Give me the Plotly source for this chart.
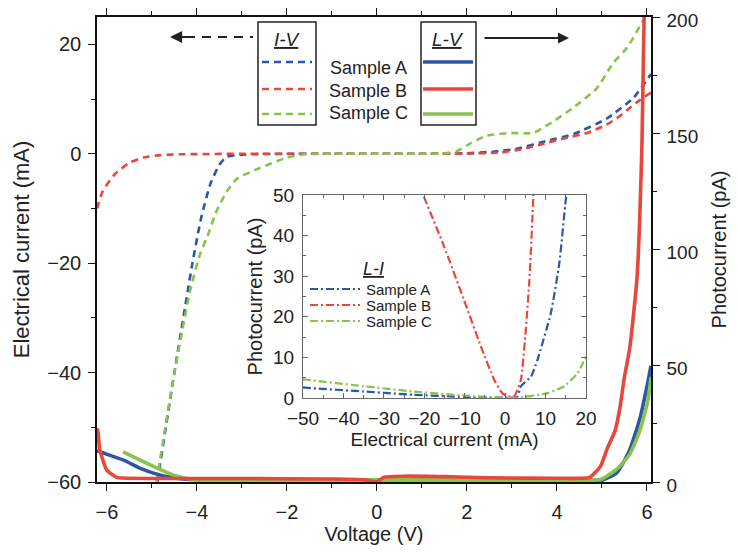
import plotly.graph_objects as go

# ---------------- data ----------------
# I-V curves (left axis, mA) vs voltage (V)
iv_a_v = [-4.88, -4.5, -4.1, -3.9, -3.7, -3.5, -3.35, -3.1, -2.5, -1, 0, 1, 2.0, 2.6, 3.1, 3.8, 4.4, 5.1, 5.7, 6.09]
iv_a_i = [-60, -40, -20, -11.5, -5.5, -2, -0.6, -0.2, -0.05, 0, 0, 0, 0.1, 0.4, 0.9, 2.4, 3.7, 6.4, 10.2, 14.6]

iv_b_v = [-6.22, -6.09, -5.82, -5.49, -5.2, -4.82, -4.4, -3, -1, 0, 1, 2, 2.73, 3.2, 3.78, 4.2, 4.67, 5.1, 5.4, 5.62, 5.84, 6.09]
iv_b_i = [-10, -6.8, -3.7, -1.6, -0.7, -0.25, -0.1, 0, 0, 0, 0, 0.05, 0.2, 0.8, 2.0, 2.9, 3.8, 5.3, 6.9, 8.4, 9.8, 11.2]

iv_c_v = [-4.9, -4.5, -4.15, -3.93, -3.78, -3.56, -3.33, -3.1, -2.6, -2.0, -1.6, -1, 0, 1, 1.5, 1.78, 2.1, 2.44, 2.96, 3.47, 3.84, 4.36, 4.89, 5.24, 5.56, 5.91, 6.0]
iv_c_i = [-60, -40, -25, -18.3, -15.4, -10.4, -6.8, -4.5, -2.6, -0.7, -0.1, 0, 0, 0, 0.05, 0.5, 2.0, 3.3, 3.8, 3.8, 5.5, 8.4, 12, 16.5, 19.4, 24.3, 25.5]

# L-V curves (right axis, pA) vs voltage (V)
lv_a_v = [-6.22, -6.16, -5.64, -5.27, -4.89, -4.6, -4.31, -4.0, -3, 0, 3, 4.5, 5.0, 5.33, 5.6, 5.84, 6.0, 6.09]
lv_a_p = [13.5, 13, 9.5, 6, 3.4, 2, 1.3, 1.0, 1.0, 1.0, 1.0, 1.0, 0.8, 4, 13, 27, 41, 50]

lv_b_v = [-6.22, -6.2, -6.16, -6.0, -5.78, -5.64, -5, -3, -1, -0.3, -0.08, 0.02, 0.15, 0.6, 1.5, 2.5, 4.0, 4.5, 4.73, 4.96, 5.13, 5.29, 5.4, 5.49, 5.62, 5.78, 5.89, 5.95]
lv_b_p = [23, 22, 14, 5, 2, 1.7, 1.5, 1.5, 1.3, 1.0, 0.2, 0.2, 2.0, 2.5, 2.3, 1.8, 1.6, 1.6, 2, 6.5, 15, 22, 32, 44, 58, 88, 146, 215]

lv_c_v = [-5.64, -5.27, -4.89, -4.53, -4.16, -3.5, -2, 0, 2, 4, 4.96, 5.33, 5.62, 5.84, 6.02, 6.09]
lv_c_p = [13, 9.5, 6, 3, 1.3, 1.0, 0.9, 0.9, 0.9, 1.0, 1, 5.5, 12, 22, 35, 45]

# L-I curves (inset): photocurrent (pA) vs electrical current (mA)
li_a_i = [-50, -49, -35, -22.6, -10, 0, 3, 3.9, 6.4, 8.0, 11.3, 13.4, 15.0, 15.2]
li_a_p = [2.6, 2.5, 1.6, 0.8, 0.25, 0.1, 0.3, 2.9, 5.3, 9.4, 20.9, 33.2, 48.8, 50]

li_b_i = [-20.1, -15.1, -10.2, -6, -2.7, -0.7, 0.6, 2.2, 3.9, 5.1, 6.0, 6.8, 7.0]
li_b_p = [49.6, 37.3, 24.2, 12.7, 4.5, 1.2, 0.4, 0.4, 4.5, 16.8, 29, 45.5, 50]

li_c_i = [-50, -49, -35, -22.6, -10.2, 2.2, 10.5, 14.6, 17.9, 20]
li_c_p = [4.6, 4.5, 2.9, 1.6, 0.6, 0, 1.2, 2.9, 6.1, 10.2]

samples = ["Sample A", "Sample B", "Sample C"]
x_ticks = [-6, -4, -2, 0, 2, 4, 6]
y_ticks = [-60, -40, -20, 0, 20]
y2_ticks = [0, 50, 100, 150, 200]
inset_x_ticks = [-50, -40, -30, -20, -10, 0, 10, 20]
inset_y_ticks = [0, 10, 20, 30, 40, 50]

# ---------------- styling / layout ----------------
# page body adds an 8 px margin, so the figure is drawn 8 px in from the window edge
OFF = 8
W, H = 739 - OFF, 553 - OFF
# plot area in window pixels: x 97..651, y 17..482
ML, MT = 97 - OFF, 17 - OFF
MR, MB = W - (651 - OFF), H - (482 - OFF)
PW, PH = W - ML - MR, H - MT - MB


def px(x):
    """window pixel x -> paper fraction"""
    return (x - OFF - ML) / PW


def py(y):
    """window pixel y -> paper fraction"""
    return (H - MB - (y - OFF)) / PH


BLUE = "#2b56a9"
RED = "#e8473c"
GREEN = "#88c34c"
COLORS = [BLUE, RED, GREEN]
FONT = "Arial, Liberation Sans, sans-serif"
TXT = "#222222"
DASH = "7px,5px"
DASHDOT = "8px,3px,2px,3px"

fig = go.Figure()

# I-V dashed
for v, i, c, n in [(iv_a_v, iv_a_i, BLUE, samples[0]), (iv_b_v, iv_b_i, RED, samples[1]),
                   (iv_c_v, iv_c_i, GREEN, samples[2])]:
    fig.add_trace(go.Scatter(x=v, y=i, mode="lines", name=n, showlegend=False,
                             line=dict(color=c, width=2.6, dash=DASH, shape="spline", smoothing=0.5),
                             xaxis="x", yaxis="y"))

# L-V solid
for v, p, c, n in [(lv_a_v, lv_a_p, BLUE, samples[0]), (lv_c_v, lv_c_p, GREEN, samples[2]),
                   (lv_b_v, lv_b_p, RED, samples[1])]:
    fig.add_trace(go.Scatter(x=v, y=p, mode="lines", name=n, showlegend=False,
                             line=dict(color=c, width=3.6, shape="spline", smoothing=0.5),
                             xaxis="x", yaxis="y2"))

# L-I inset dash-dot
for i, p, c, n in [(li_a_i, li_a_p, BLUE, samples[0]), (li_b_i, li_b_p, RED, samples[1]),
                   (li_c_i, li_c_p, GREEN, samples[2])]:
    fig.add_trace(go.Scatter(x=i, y=p, mode="lines", name=n, showlegend=False,
                             line=dict(color=c, width=2.2, dash=DASHDOT, shape="spline", smoothing=0.5),
                             xaxis="x2", yaxis="y3", cliponaxis=True))

axis_common = dict(showgrid=False, zeroline=False, showline=True, linecolor="#111111",
                   linewidth=1.5, tickcolor="#111111", tickwidth=1.3, automargin=False,
                   ticklabeloverflow="allow",
                   tickfont=dict(family=FONT, size=20, color=TXT))

inset_domain_x = [px(303), px(586)]
inset_domain_y = [py(398), py(195)]

fig.update_layout(
    width=W, height=H,
    margin=dict(l=ML, r=MR, t=MT, b=MB, pad=0, autoexpand=False),
    paper_bgcolor="white", plot_bgcolor="white",
    font=dict(family=FONT, color=TXT),
    showlegend=False,
    xaxis=dict(axis_common, domain=[0, 1], range=[-6.22, 6.09], tickmode="array", tickvals=x_ticks,
               ticks="outside", ticklen=7, mirror="ticks", anchor="y", ticklabelstandoff=4,
               minor=dict(dtick=1, tick0=0, ticks="outside", ticklen=4, tickcolor="#111111"),
               title=dict(text="Voltage (V)", font=dict(family=FONT, size=20, color=TXT), standoff=2)),
    yaxis=dict(axis_common, domain=[0, 1], range=[-60, 25], tickmode="array", tickvals=y_ticks,
               ticks="outside", ticklen=7, anchor="x", ticklabelstandoff=3,
               minor=dict(dtick=10, tick0=0, ticks="outside", ticklen=4, tickcolor="#111111"),
               title=dict(text="Electrical current (mA)", font=dict(family=FONT, size=22, color=TXT),
                          standoff=12)),
    yaxis2=dict(axis_common, range=[0, 200], tickmode="array", tickvals=y2_ticks, overlaying="y",
                side="right", anchor="x", ticks="outside", ticklen=7, ticklabelstandoff=3,
                ticklabelshift=3, tickfont=dict(family=FONT, size=19, color=TXT),
                minor=dict(dtick=25, tick0=0, ticks="outside", ticklen=4, tickcolor="#111111"),
                title=dict(text="Photocurrent (pA)", font=dict(family=FONT, size=20, color=TXT),
                           standoff=15)),
    xaxis2=dict(axis_common, domain=inset_domain_x, range=[-50, 20], tickmode="array",
                tickvals=inset_x_ticks, ticks="inside", ticklen=5, mirror="ticks", anchor="y3",
                linecolor="#666666", tickcolor="#666666", linewidth=1.3, ticklabelstandoff=3,
                tickfont=dict(family=FONT, size=19, color=TXT),
                minor=dict(dtick=5, tick0=0, ticks="inside", ticklen=3, tickcolor="#666666"),
                title=dict(text="Electrical current (mA)", font=dict(family=FONT, size=19, color=TXT),
                           standoff=2)),
    yaxis3=dict(axis_common, domain=inset_domain_y, range=[0, 50], tickmode="array",
                tickvals=inset_y_ticks, ticks="inside", ticklen=5, mirror="ticks", anchor="x2",
                linecolor="#666666", tickcolor="#666666", linewidth=1.3, ticklabelstandoff=4,
                tickfont=dict(family=FONT, size=19, color=TXT),
                minor=dict(dtick=5, tick0=0, ticks="inside", ticklen=3, tickcolor="#666666"),
                title=dict(text="Photocurrent (pA)", font=dict(family=FONT, size=20, color=TXT),
                           standoff=4)),
)

shapes = []
annotations = []

# legend boxes (I-V / L-V)
for x0, x1 in [(258, 316), (421, 476)]:
    shapes.append(dict(type="rect", xref="paper", yref="paper", x0=px(x0), x1=px(x1),
                       y0=py(125), y1=py(22), line=dict(color="#222222", width=1.5),
                       fillcolor="white", layer="above"))
legend_rows = [62, 89, 114]
for row, c in zip(legend_rows, COLORS):
    shapes.append(dict(type="line", xref="paper", yref="paper", x0=px(262), x1=px(312),
                       y0=py(row), y1=py(row), line=dict(color=c, width=2.6, dash=DASH)))
    shapes.append(dict(type="line", xref="paper", yref="paper", x0=px(423), x1=px(473),
                       y0=py(row), y1=py(row), line=dict(color=c, width=3.6)))
for yy, s in zip([68, 91, 113], samples):
    annotations.append(dict(xref="paper", yref="paper", x=px(368), y=py(yy), text=s, showarrow=False,
                            xanchor="center", yanchor="middle",
                            font=dict(family=FONT, size=18, color=TXT)))
annotations.append(dict(xref="paper", yref="paper", x=px(287), y=py(40), text="<i><u>I-V</u></i>",
                        showarrow=False, xanchor="center", yanchor="middle",
                        font=dict(family=FONT, size=19, color=TXT)))
annotations.append(dict(xref="paper", yref="paper", x=px(448), y=py(40), text="<i><u>L-V</u></i>",
                        showarrow=False, xanchor="center", yanchor="middle",
                        font=dict(family=FONT, size=19, color=TXT)))

# direction arrows
shapes.append(dict(type="line", xref="paper", yref="paper", x0=px(186), x1=px(253), y0=py(37), y1=py(37),
                   line=dict(color="#222222", width=2.2, dash="9px,7px")))
annotations.append(dict(xref="paper", yref="paper", x=px(170), y=py(37), ax=18, ay=0, text="",
                        showarrow=True, arrowhead=2, arrowsize=1.1, arrowwidth=2.2, arrowcolor="#222222"))
annotations.append(dict(xref="paper", yref="paper", x=px(569), y=py(38), ax=-86, ay=0, text="",
                        showarrow=True, arrowhead=2, arrowsize=1.1, arrowwidth=2.0, arrowcolor="#222222"))

# inset legend (L-I)
annotations.append(dict(xref="paper", yref="paper", x=px(373), y=py(269), text="<i><u>L-I</u></i>",
                        showarrow=False, xanchor="center", yanchor="middle",
                        font=dict(family=FONT, size=18, color=TXT)))
for yy, c, s in zip([289, 305, 321], COLORS, samples):
    shapes.append(dict(type="line", xref="paper", yref="paper", x0=px(310), x1=px(360),
                       y0=py(yy), y1=py(yy), line=dict(color=c, width=2.2, dash=DASHDOT)))
    annotations.append(dict(xref="paper", yref="paper", x=px(364), y=py(yy), text=s, showarrow=False,
                            xanchor="left", yanchor="middle",
                            font=dict(family=FONT, size=15, color=TXT)))

fig.update_layout(shapes=shapes, annotations=annotations)

fig.write_html("out.html")
